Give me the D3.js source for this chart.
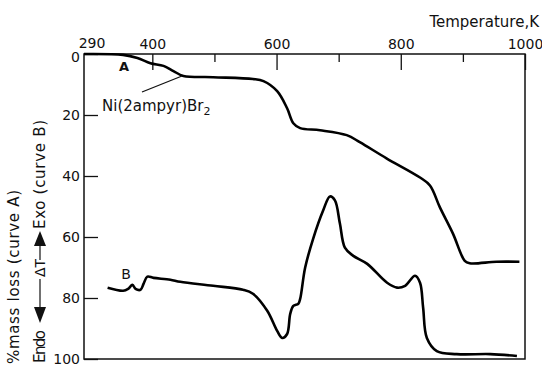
<!DOCTYPE html>
<html>
<head>
<meta charset="utf-8">
<script src="https://cdn.jsdelivr.net/npm/d3@7"></script>
<style>
  body { margin: 0; background: #fff; }
  svg { display: block; }
  text { font-family: "DejaVu Sans", sans-serif; fill: #111; }
</style>
</head>
<body>
<div id="content"></div>
<script>
// temperature axis (K) and y axis (% mass loss)
var tempMajor = [400, 600, 800, 1000];
var tempMinor = [500, 700, 900];
var tempStart = 290;
var yTicks = [0, 20, 40, 60, 80, 100];

// curve A: TG, % mass loss
var tgTemp = [290, 353, 376, 397, 418, 434, 450, 498, 562, 579, 601, 617, 627, 638, 670, 713, 734, 777, 831, 847, 863, 884, 903, 911, 954, 991];
var tgLoss = [0, 0.3, 1.3, 3.0, 3.9, 5.6, 7.2, 7.6, 8.2, 8.9, 12.2, 17.8, 22.7, 24.3, 25.0, 26.6, 28.9, 34.2, 40.5, 43.1, 50.3, 58.9, 67.8, 68.6, 68.1, 68.1];

// curve B: DTA, read on the same vertical scale
var dtaTemp = [328, 353, 361, 368, 373, 381, 386, 392, 402, 429, 445, 498, 546, 562, 585, 601, 609, 617, 622, 627, 635, 638, 646, 659, 675, 686, 694, 702, 710, 723, 746, 778, 794, 807, 823, 831, 836, 842, 858, 890, 944, 987];
var dtaSignal = [76.6, 77.6, 77.0, 75.7, 77.0, 77.3, 75.3, 73.0, 73.4, 74.0, 74.7, 76.0, 77.3, 78.6, 84.2, 90.8, 93.1, 91.8, 85.2, 82.6, 81.9, 80.3, 70.1, 60.5, 51.3, 46.7, 48.0, 55.6, 63.5, 66.1, 68.8, 75.0, 76.6, 76.0, 72.7, 75.0, 83.2, 93.1, 97.4, 98.4, 98.4, 99.0];

var width = 542, height = 366;
var plotLeft = 84, plotRight = 525, plotTop = 54, plotBottom = 359;

var svg = d3.select('#content').append('svg')
  .attr('width', width)
  .attr('height', height);

var x = d3.scaleLinear().domain([290, 1000]).range([plotLeft, plotRight]);
var y = d3.scaleLinear().domain([0, 100]).range([plotTop, plotBottom]);

// frame
svg.append('rect')
  .attr('x', plotLeft).attr('y', plotTop)
  .attr('width', plotRight - plotLeft).attr('height', plotBottom - plotTop)
  .attr('fill', 'none').attr('stroke', '#111').attr('stroke-width', 1.5);

// top axis, ticks point into the plot
svg.append('g')
  .attr('transform', 'translate(0,' + plotTop + ')')
  .call(d3.axisTop(x).tickValues(tempMajor).tickSize(-16).tickPadding(5).tickFormat(d3.format('d')));
svg.append('g')
  .attr('transform', 'translate(0,' + plotTop + ')')
  .call(d3.axisTop(x).tickValues(tempMinor).tickSize(-8).tickFormat(''));

// left axis, ticks point into the plot
var yAxis = svg.append('g')
  .attr('transform', 'translate(' + plotLeft + ',0)')
  .call(d3.axisLeft(y).tickValues(yTicks).tickSize(-14).tickPadding(4));

svg.selectAll('.domain').remove();
svg.selectAll('.tick line').attr('stroke', '#111').attr('stroke-width', 1.3);
svg.selectAll('.tick text')
  .style('font-family', '"DejaVu Sans", sans-serif')
  .style('font-size', '14px')
  .attr('fill', '#111');
// the 0 sits a little below the corner
yAxis.selectAll('.tick text').filter(function(d) { return d === 0; }).attr('y', 3);

// first temperature label sits right of the corner
svg.append('text')
  .attr('x', x(tempStart) + 8).attr('y', plotTop - 6)
  .attr('text-anchor', 'middle')
  .style('font-size', '14px')
  .text(tempStart);

svg.append('text')
  .attr('x', 539).attr('y', 27)
  .attr('text-anchor', 'end')
  .style('font-size', '15px')
  .text('Temperature,K');

var line = d3.line()
  .x(function(d) { return x(d[0]); })
  .y(function(d) { return y(d[1]); })
  .curve(d3.curveCatmullRom.alpha(0.5));

var curveA = tgTemp.map(function(t, i) { return [t, tgLoss[i]]; });
var curveB = dtaTemp.map(function(t, i) { return [t, dtaSignal[i]]; });

svg.append('path')
  .datum(curveA)
  .attr('d', line)
  .attr('fill', 'none').attr('stroke', '#000').attr('stroke-width', 2.6)
  .attr('stroke-linejoin', 'round');

svg.append('path')
  .datum(curveB)
  .attr('d', line)
  .attr('fill', 'none').attr('stroke', '#000').attr('stroke-width', 2.6)
  .attr('stroke-linejoin', 'round');

// curve letters
svg.append('text').attr('x', 124).attr('y', 71)
  .attr('text-anchor', 'middle').style('font-size', '13px').style('font-weight', 'bold').text('A');
svg.append('text').attr('x', 126).attr('y', 279)
  .attr('text-anchor', 'middle').style('font-size', '14px').text('B');

// compound label with leader line
svg.append('line')
  .attr('x1', 142).attr('y1', 92).attr('x2', 182).attr('y2', 76)
  .attr('stroke', '#111').attr('stroke-width', 1.2);
var comp = svg.append('text').attr('x', 102).attr('y', 111).style('font-size', '15px');
comp.append('tspan').text('Ni(2ampyr)Br');
comp.append('tspan').attr('dy', 4).style('font-size', '11px').text('2');

// y axis titles, rotated
svg.append('text')
  .attr('transform', 'translate(19,364) rotate(-90)')
  .style('font-size', '15px')
  .attr('textLength', 174)
  .text('%mass loss (curve A)');

var g2 = svg.append('g').attr('transform', 'translate(45,363) rotate(-90)');
g2.append('text').attr('x', 0).attr('y', 0).style('font-size', '15px')
  .attr('textLength', 33).text('Endo');
// down arrow (toward Endo)
g2.append('path').attr('d', 'M40,-5 L56,-11 L56,1 Z').attr('fill', '#111');
g2.append('line').attr('x1', 56).attr('y1', -5).attr('x2', 84).attr('y2', -5)
  .attr('stroke', '#111').attr('stroke-width', 1.2);
g2.append('text').attr('x', 86).attr('y', 0).style('font-size', '14px').text('ΔT');
g2.append('line').attr('x1', 103).attr('y1', -5).attr('x2', 119).attr('y2', -5)
  .attr('stroke', '#111').attr('stroke-width', 1.2);
// up arrow (toward Exo)
g2.append('path').attr('d', 'M132,-5 L117,-11 L117,1 Z').attr('fill', '#111');
g2.append('text').attr('x', 134).attr('y', 0).style('font-size', '15px')
  .attr('textLength', 109).text('Exo (curve B)');
</script>
</body>
</html>
